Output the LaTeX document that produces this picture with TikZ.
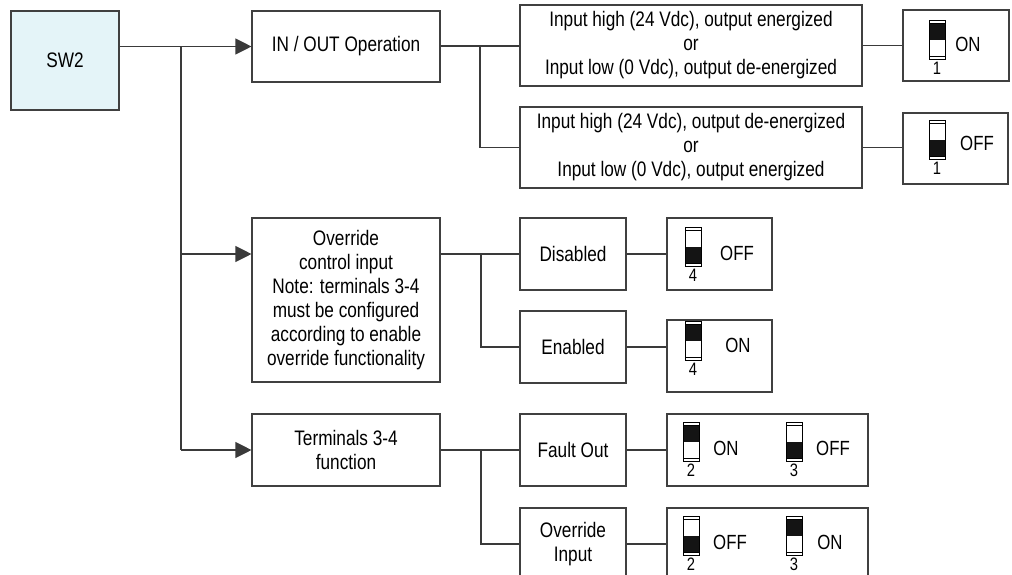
\documentclass[tikz,border=0pt]{standalone}
\usepackage{fontspec}
\setmainfont{Liberation Sans}[FakeStretch=0.82]
\usetikzlibrary{arrows.meta}

\definecolor{lineclr}{HTML}{3A3A3A}
\definecolor{boxclr}{HTML}{404040}
\definecolor{swfill}{HTML}{E4F4F8}

\tikzset{
  conn/.style={draw=lineclr, line width=1.1pt},
  arr/.style={conn, -{Triangle[length=16pt,width=16pt]}},
  box/.style={draw=boxclr, line width=1.1pt, fill=white, inner sep=0pt,
              align=center, font=\fontsize{21}{24}\selectfont},
  txt/.style={inner sep=0pt, font=\fontsize{20.5}{24}\selectfont},
  lbl/.style={inner sep=0pt, font=\fontsize{18}{20}\selectfont},
  swl/.style={draw=black, line width=0.9pt},
  % DIP switch lever, origin at its top-left corner
  pics/dipon/.style={code={
    \fill[black!92] (0,3) rectangle (16,19.5);
    \draw[swl] (0,0) rectangle (16,39);
    \draw[swl] (0,3) -- (16,3) (0,36) -- (16,36);
    \node[lbl] (-num) at (8,48.5) {#1};
  }},
  pics/dipoff/.style={code={
    \fill[black!92] (0,19.5) rectangle (16,36);
    \draw[swl] (0,0) rectangle (16,39);
    \draw[swl] (0,3) -- (16,3) (0,36) -- (16,36);
    \node[lbl] (-num) at (8,48.5) {#1};
  }},
}

\begin{document}
\begin{tikzpicture}[x=1pt, y=-1pt]
\clip (0,0) rectangle (1012,574);
\fill[white] (0,0) rectangle (1012,574);

% root
\node[box, fill=swfill, minimum width=108pt, minimum height=99pt] (sw2) at (65,60.5) {SW2};

% first level
\node[box, minimum width=188pt, minimum height=71pt] (io) at (346,46.5) {IN / OUT Operation};
\node[box, minimum width=188pt, minimum height=164pt] (ovr) at (346,300)
  {Override\\control input\\Note: terminals 3-4\\must be configured\\according to enable\\override functionality};
\node[box, minimum width=188pt, minimum height=72pt] (term) at (346,450) {Terminals 3-4\\function};

% second level
\node[box, minimum width=342pt, minimum height=81pt] (opt1) at (691,45.5)
  {Input high (24 Vdc), output energized\\or\\Input low (0 Vdc), output de-energized};
\node[box, minimum width=342pt, minimum height=81pt] (opt2) at (691,147.5)
  {Input high (24 Vdc), output de-energized\\or\\Input low (0 Vdc), output energized};
\node[box, minimum width=106pt, minimum height=72pt] (dis) at (573,254) {Disabled};
\node[box, minimum width=106pt, minimum height=72pt] (ena) at (573,347) {Enabled};
\node[box, minimum width=106pt, minimum height=72pt] (fault) at (573,450) {Fault Out};
\node[box, minimum width=106pt, minimum height=72pt] (ovin) at (573,544) {Override\\Input};

% switch setting boxes
\node[box, minimum width=106pt, minimum height=71pt] (s1) at (956,45.5) {};
\node[box, minimum width=105pt, minimum height=71pt] (s2) at (955.5,148.5) {};
\node[box, minimum width=105pt, minimum height=72pt] (s3) at (719.5,254) {};
\node[box, minimum width=105pt, minimum height=72pt] (s4) at (719.5,356) {};
\node[box, minimum width=201pt, minimum height=72pt] (s5) at (767.5,450) {};
\node[box, minimum width=201pt, minimum height=72pt] (s6) at (767.5,544) {};

% switch drawings and their states
\pic (k1) at (929,20) {dipon=1};
\node[txt] (t1) at (968,44) {ON};
\pic (k2) at (929,120) {dipoff=1};
\node[txt] (t2) at (977,143) {OFF};
\pic (k3) at (685,227) {dipoff=4};
\node[txt] (t3) at (737,253) {OFF};
\pic (k4) at (685,321) {dipon=4};
\node[txt] (t4) at (738,345) {ON};
\pic (k5) at (683,422) {dipon=2};
\node[txt] (t5) at (726,448) {ON};
\pic (k6) at (786,422) {dipoff=3};
\node[txt] (t6) at (833,448) {OFF};
\pic (k7) at (683,516) {dipoff=2};
\node[txt] (t7) at (730,542) {OFF};
\pic (k8) at (786,516) {dipon=3};
\node[txt] (t8) at (830,542) {ON};

% trunk from SW2
\coordinate (j0) at (181,46);
\draw[arr] (sw2.east |- io.west) -- (io.west);
\draw[conn] (j0) -- (181,450);
\draw[arr] (j0 |- dis) -- (ovr.west |- dis);
\draw[arr] (j0 |- term) -- (term.west);

% IN / OUT branch
\coordinate (j1) at (480,46);
\draw[conn] (io.east |- j1) -- (j1 -| opt1.west);
\draw[conn] (j1) |- (opt2.west);
\draw[conn] (opt1.east) -- (opt1.east -| s1.west);
\draw[conn] (opt2.east) -- (opt2.east -| s2.west);

% override branch
\coordinate (j2) at (481,254);
\draw[conn] (ovr.east |- dis) -- (dis.west);
\draw[conn] (j2) |- (ena.west);
\draw[conn] (dis.east) -- (s3.west);
\draw[conn] (ena.east) -- (ena.east -| s4.west);

% terminals branch
\coordinate (j3) at (481,450);
\draw[conn] (term.east) -- (fault.west);
\draw[conn] (j3) |- (ovin.west);
\draw[conn] (fault.east) -- (s5.west);
\draw[conn] (ovin.east) -- (s6.west);
\end{tikzpicture}
\end{document}
